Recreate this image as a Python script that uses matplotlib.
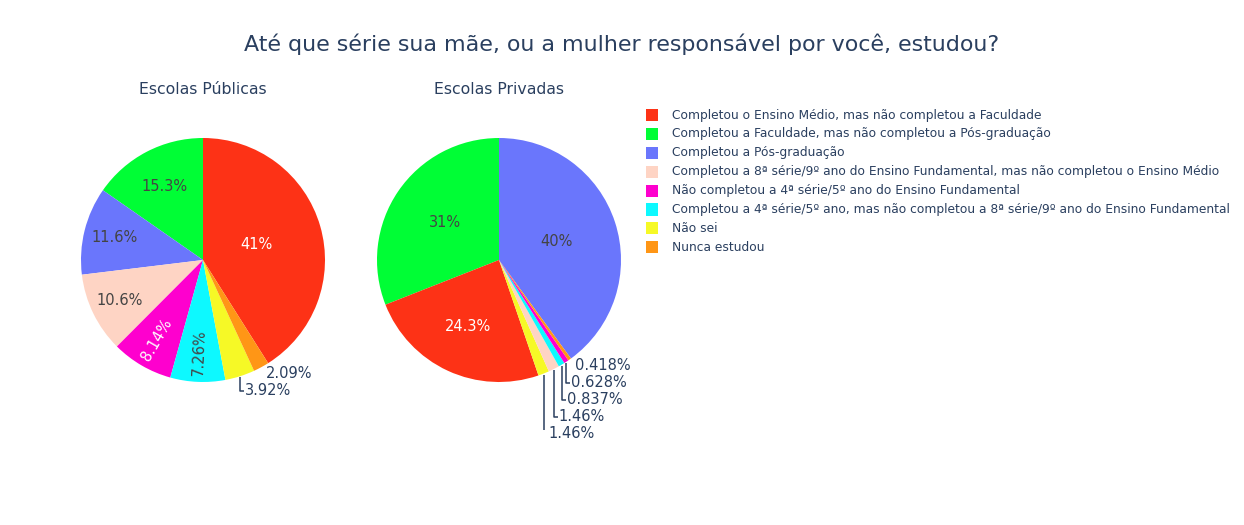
import numpy as np
import matplotlib
matplotlib.use("Agg")
import matplotlib.pyplot as plt
from matplotlib.patches import Rectangle

plt.rcParams['font.family'] = ['DejaVu Sans']

TITLE = "Até que série sua mãe, ou a mulher responsável por você, estudou?"
SUBTITLES = ["Escolas Públicas", "Escolas Privadas"]

# legend order (same as the public pie)
LABELS = [
    "Completou o Ensino Médio, mas não completou a Faculdade",
    "Completou a Faculdade, mas não completou a Pós-graduação",
    "Completou a Pós-graduação",
    "Completou a 8ª série/9º ano do Ensino Fundamental, mas não completou o Ensino Médio",
    "Não completou a 4ª série/5º ano do Ensino Fundamental",
    "Completou a 4ª série/5º ano, mas não completou a 8ª série/9º ano do Ensino Fundamental",
    "Não sei",
    "Nunca estudou",
]
COLORS = ['#FD3216', '#00FE35', '#6A76FC', '#FED4C4', '#FE00CE', '#0DF9FF', '#F6F926', '#FF9616']

pub_labels = LABELS
pub_values = [41, 15.3, 11.6, 10.6, 8.14, 7.26, 3.92, 2.09]

priv_labels = [LABELS[2], LABELS[1], LABELS[0], LABELS[6], LABELS[3], LABELS[5], LABELS[4], LABELS[7]]
priv_values = [40, 31, 24.3, 1.46, 1.46, 0.837, 0.628, 0.418]

color_of = dict(zip(LABELS, COLORS))

W, H = 1244, 525
R_PX = 122
FONT_COLOR = '#2a3f5f'
DARK_TEXT = '#444444'
PIE_FS = 10.5

fig = plt.figure(figsize=(W / 100, H / 100), dpi=100)


def is_light(hexcol):
    r, g, b = (int(hexcol[i:i + 2], 16) for i in (1, 3, 5))
    return (299 * r + 587 * g + 114 * b) / 1000 > 128


def draw_pie(cx, cy, labels, values, inside_r):
    half = 170
    ax = fig.add_axes([(cx - half) / W, (H - cy - half) / H, 2 * half / W, 2 * half / H])
    total = sum(values)
    cols = [color_of[l] for l in labels]
    wedges, _ = ax.pie(values, colors=cols, radius=1,
                       startangle=90 - 360 * values[0] / total,
                       counterclock=True, wedgeprops=dict(linewidth=0))
    lim = half / R_PX
    ax.set_xlim(-lim, lim)
    ax.set_ylim(-lim, lim)
    ax.axis('off')

    k = 1 / R_PX  # one pixel in data units
    outside = []
    for i, (w, v, c) in enumerate(zip(wedges, values, cols)):
        theta = np.radians((w.theta1 + w.theta2) / 2)
        txt = f"{v:.3g}%"
        if v >= 5:
            r = inside_r[i]
            tc = DARK_TEXT if is_light(c) else 'white'
            rot = 0
            if v < 9:
                rot = np.degrees(theta) % 180
                if rot > 90:
                    rot -= 180
            ax.text(r * np.cos(theta), r * np.sin(theta), txt, ha='center', va='center',
                    rotation=rot, rotation_mode='anchor', fontsize=PIE_FS, color=tc)
        else:
            outside.append((np.cos(theta), np.sin(theta), txt))

    # outside labels, pushed down so they don't overlap
    prev_y = None
    for ex, ey, txt in sorted(outside, key=lambda t: -t[1]):
        ly = ey - 6.5 * k
        if prev_y is not None and ly > prev_y - 17 * k:
            ly = prev_y - 17 * k
            ax.plot([ex, ex, ex + 4 * k], [ey - 1 * k, ly, ly],
                    color=FONT_COLOR, lw=1.1, solid_capstyle='butt')
        ax.text(ex + 5 * k, ly, txt, ha='left', va='center',
                fontsize=PIE_FS, color=FONT_COLOR)
        prev_y = ly
    return ax


draw_pie(203, 260, pub_labels, pub_values, [0.46, 0.68, 0.75, 0.76, 0.76, 0.76])
draw_pie(499, 260, priv_labels, priv_values, [0.50, 0.54, 0.60])

fig.text(0.5, 1 - 44 / H, TITLE, ha='center', va='center', fontsize=15.9, color=FONT_COLOR)
for x, t in zip([203, 499], SUBTITLES):
    fig.text(x / W, 1 - 89 / H, t, ha='center', va='center', fontsize=11.3, color=FONT_COLOR)

# legend
for i, (lab, col) in enumerate(zip(LABELS, COLORS)):
    y = 115 + i * 18.9
    fig.patches.append(Rectangle((646 / W, 1 - (y + 6) / H), 12 / W, 12 / H,
                                 transform=fig.transFigure, facecolor=col, edgecolor='none'))
    fig.text(672 / W, 1 - y / H, lab, ha='left', va='center', fontsize=8.8, color=FONT_COLOR)

fig.savefig('out.png', dpi=100, facecolor='white')
